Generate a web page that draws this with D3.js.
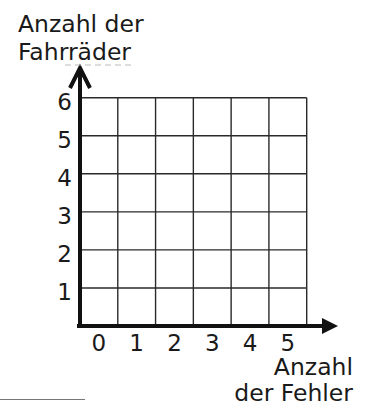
<!DOCTYPE html>
<html>
<head>
<meta charset="utf-8">
<script src="https://cdn.jsdelivr.net/npm/d3@7"></script>
<style>
  body { margin: 0; background: #fff; }
  svg text { font-family: "DejaVu Sans", sans-serif; fill: #1a1a1a; }
</style>
</head>
<body>
<svg id="chart" width="370" height="406"></svg>
<script>
// blank worksheet grid: number of errors vs number of bicycles
const categories = [0, 1, 2, 3, 4, 5];
const yTicks = [1, 2, 3, 4, 5, 6];
const yTitle = ['Anzahl der', 'Fahrräder'];
const xTitle = ['Anzahl', 'der Fehler'];

const svg = d3.select('#chart');
const plotLeft = 80, plotRight = 306.7, plotTop = 97.7, plotBottom = 326;

const x = d3.scaleBand()
  .domain(categories)
  .range([plotLeft, plotRight])
  .paddingInner(0);

const y = d3.scaleLinear()
  .domain([0, d3.max(yTicks)])
  .range([plotBottom, plotTop]);

// grid
const grid = svg.append('g')
  .attr('stroke', '#2a2a2a')
  .attr('stroke-width', 1.4);

grid.selectAll('line.v')
  .data(categories.slice(1).map(c => x(c)).concat([x.range()[1]]))
  .enter().append('line')
  .attr('class', 'v')
  .attr('x1', d => d).attr('x2', d => d)
  .attr('y1', y(0)).attr('y2', y(d3.max(yTicks)));

grid.selectAll('line.h')
  .data(yTicks)
  .enter().append('line')
  .attr('class', 'h')
  .attr('x1', plotLeft).attr('x2', plotRight)
  .attr('y1', d => y(d)).attr('y2', d => y(d));

// tick labels
const yAxis = svg.append('g')
  .attr('transform', `translate(${plotLeft},0)`)
  .call(d3.axisLeft(y).tickValues(yTicks).tickFormat(d3.format('d'))
    .tickSize(0).tickPadding(8));
yAxis.select('.domain').remove();
yAxis.selectAll('text')
  .attr('dy', '0.5em')
  .style('font-size', '23px')
  .style('font-family', '"DejaVu Sans", sans-serif')
  .attr('fill', '#1a1a1a');

const xAxis = svg.append('g')
  .attr('transform', `translate(0,${plotBottom})`)
  .call(d3.axisBottom(x).tickSize(0).tickPadding(9));
xAxis.select('.domain').remove();
xAxis.selectAll('text')
  .style('font-size', '23px')
  .style('font-family', '"DejaVu Sans", sans-serif')
  .attr('fill', '#1a1a1a');

// axes with arrows
svg.append('line')
  .attr('x1', plotLeft).attr('x2', plotLeft)
  .attr('y1', plotBottom + 2).attr('y2', 68)
  .attr('stroke', '#111').attr('stroke-width', 4);
svg.append('path')
  .attr('d', `M${plotLeft - 10},88 L${plotLeft},68 L${plotLeft + 10},88`)
  .attr('fill', 'none')
  .attr('stroke', '#111').attr('stroke-width', 4)
  .attr('stroke-linejoin', 'miter');

svg.append('line')
  .attr('x1', plotLeft - 3).attr('x2', 326)
  .attr('y1', plotBottom).attr('y2', plotBottom)
  .attr('stroke', '#111').attr('stroke-width', 4);
svg.append('path')
  .attr('d', `M322,${plotBottom - 8} L338,${plotBottom} L322,${plotBottom + 8} Z`)
  .attr('fill', '#111');

// titles
svg.append('g').selectAll('text')
  .data(yTitle)
  .enter().append('text')
  .attr('x', 18)
  .attr('y', (d, i) => 32 + i * 28)
  .style('font-size', '23.5px')
  .text(d => d);

svg.append('g').selectAll('text')
  .data(xTitle)
  .enter().append('text')
  .attr('x', 353)
  .attr('y', (d, i) => 375 + i * 26)
  .attr('text-anchor', 'end')
  .style('font-size', '23.5px')
  .text(d => d);

// faint scan leftovers
svg.append('line')
  .attr('x1', 65).attr('x2', 132).attr('y1', 65).attr('y2', 65)
  .attr('stroke', '#bbb').attr('stroke-width', 1)
  .attr('stroke-dasharray', '6,4');
svg.append('line')
  .attr('x1', 0).attr('x2', 85).attr('y1', 399.5).attr('y2', 399.5)
  .attr('stroke', '#777').attr('stroke-width', 1.2);
</script>
</body>
</html>
